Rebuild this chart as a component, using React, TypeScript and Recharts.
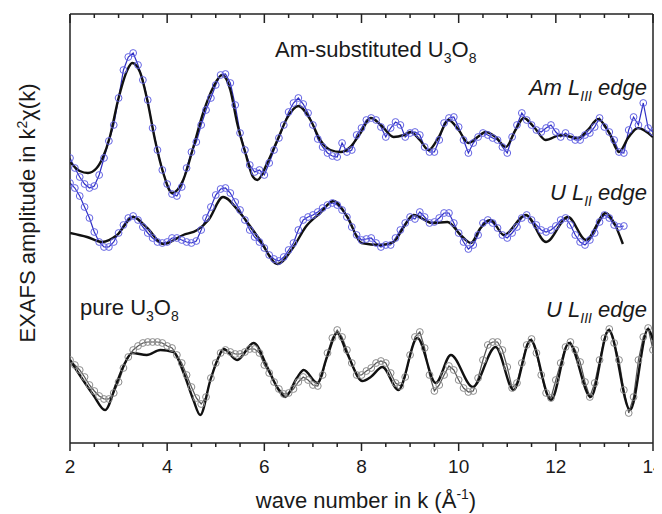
import React from 'react';
import { LineChart, Line, XAxis, YAxis, ReferenceLine, Customized } from 'recharts';

// sampling grid (wave number k, 1/Å) of the measured spectra
const kData = [
  2.0, 2.1, 2.2, 2.3, 2.4, 2.5, 2.6, 2.7, 2.8, 2.9,
  3.0, 3.1, 3.2, 3.3, 3.4, 3.5, 3.6, 3.7, 3.8, 3.9,
  4.0, 4.1, 4.2, 4.3, 4.4, 4.5, 4.6, 4.7, 4.8, 4.9,
  5.0, 5.1, 5.2, 5.3, 5.4, 5.5, 5.6, 5.7, 5.8, 5.9,
  6.0, 6.1, 6.2, 6.3, 6.4, 6.5, 6.6, 6.7, 6.8, 6.9,
  7.0, 7.1, 7.2, 7.3, 7.4, 7.5, 7.6, 7.7, 7.8, 7.9,
  8.0, 8.1, 8.2, 8.3, 8.4, 8.5, 8.6, 8.7, 8.8, 8.9,
  9.0, 9.1, 9.2, 9.3, 9.4, 9.5, 9.6, 9.7, 9.8, 9.9,
  10.0, 10.1, 10.2, 10.3, 10.4, 10.5, 10.6, 10.7, 10.8, 10.9,
  11.0, 11.1, 11.2, 11.3, 11.4, 11.5, 11.6, 11.7, 11.8, 11.9,
  12.0, 12.1, 12.2, 12.3, 12.4, 12.5, 12.6, 12.7, 12.8, 12.9,
  13.0, 13.1, 13.2, 13.3, 13.4, 13.5, 13.6, 13.7, 13.8, 13.9,
  14.0,
];

// Am L_III edge, measured (offset, arbitrary units)
const amMeasured = [
  285, 275, 266, 259, 255, 257, 268, 285, 302, 318,
  345, 373, 386, 390, 378, 363, 343, 315, 293, 273,
  259, 249, 247, 256, 275, 291, 301, 318, 333, 345,
  358, 368, 369, 360, 338, 310, 293, 278, 271, 273,
  268, 280, 293, 305, 318, 331, 340, 345, 339, 330,
  318, 304, 296, 290, 287, 286, 300, 291, 293, 308,
  315, 323, 325, 323, 316, 306, 315, 321, 318, 306,
  310, 311, 308, 296, 291, 291, 303, 320, 325, 326,
  316, 303, 290, 300, 306, 310, 308, 305, 303, 296,
  290, 306, 318, 330, 323, 318, 313, 311, 315, 318,
  311, 306, 310, 306, 303, 303, 308, 310, 316, 325,
  316, 311, 303, 291, 290, 313, 326, 318, 340, 315,
  311,
];

// Am L_III edge, fit
const amFitK = [
  2.0, 2.2, 2.37, 2.55, 2.68, 2.82, 2.99, 3.18, 3.28, 3.44,
  3.59, 3.75, 3.92, 4.1, 4.33, 4.54, 4.74, 4.95, 5.13, 5.3,
  5.44, 5.61, 5.77, 5.86, 6.06, 6.27, 6.47, 6.7, 6.95, 7.15,
  7.36, 7.57, 7.77, 7.98, 8.19, 8.4, 8.66, 8.87, 9.01, 9.2,
  9.38, 9.59, 9.79, 10.0, 10.2, 10.39, 10.56, 10.76, 10.97, 11.17,
  11.34, 11.55, 11.79, 12.1, 12.45, 12.66, 12.87, 13.1, 13.3, 13.5,
  13.69, 14.0,
];
const amFitV = [
  281, 272, 270, 275, 286, 306, 343, 373, 380, 371,
  343, 303, 270, 250, 263, 296, 330, 356, 368, 353,
  320, 290, 266, 263, 280, 303, 325, 337, 323, 303,
  293, 291, 296, 310, 325, 318, 306, 308, 311, 303,
  293, 306, 323, 313, 300, 306, 311, 306, 296, 313,
  325, 316, 303, 308, 305, 313, 324, 310, 291, 306,
  315, 306,
];

// U L_II edge, measured (k = 2.0 ... 13.4)
const uL2Measured = [
  260, 255, 247, 236, 225, 211, 201, 196, 196, 201,
  210, 218, 225, 227, 223, 216, 210, 205, 201, 200,
  201, 205, 205, 203, 201, 200, 202, 213, 225, 236,
  248, 254, 255, 250, 241, 233, 223, 213, 206, 201,
  195, 188, 184, 182, 186, 193, 200, 213, 223, 226,
  228, 231, 235, 238, 240, 238, 233, 226, 216, 208,
  203, 204, 205, 200, 196, 198, 198, 205, 213, 220,
  226, 224, 231, 226, 220, 221, 225, 230, 230, 220,
  210, 201, 194, 198, 208, 220, 223, 220, 215, 208,
  205, 210, 216, 225, 228, 223, 218, 213, 211, 213,
  217, 223, 225, 218, 208, 201, 198, 203, 210, 221,
  228, 225, 218, 216, 217,
];

// U L_II edge, fit
const uL2FitK = [
  2.0, 2.35, 2.66, 2.97, 3.3, 3.59, 3.92, 4.33, 4.62, 4.85,
  5.15, 5.5, 5.91, 6.27, 6.6, 6.85, 7.15, 7.42, 7.71, 8.0,
  8.39, 8.66, 8.87, 9.07, 9.46, 9.77, 10.04, 10.25, 10.45, 10.66,
  10.93, 11.38, 11.8, 12.25, 12.62, 13.03, 13.2, 13.38,
];
const uL2FitV = [
  210, 206, 201, 208, 226, 215, 199, 208, 213, 223,
  246, 230, 203, 179, 196, 216, 230, 242, 226, 200,
  198, 201, 216, 228, 220, 221, 208, 200, 215, 223,
  208, 228, 201, 226, 203, 230, 220, 199,
];

// U L_III edge (pure U3O8), measured
const uL3Measured = [
  83, 78, 73, 66, 58, 52, 47, 44, 44, 50,
  61, 75, 86, 93, 97, 100, 101, 101, 101, 100,
  97, 95, 88, 80, 68, 56, 45, 39, 46, 65,
  80, 90, 93, 91, 89, 89, 91, 94, 94, 90,
  78, 70, 61, 54, 49, 50, 54, 61, 66, 63,
  58, 57, 68, 90, 105, 113, 106, 93, 80, 68,
  68, 72, 75, 80, 82, 80, 70, 60, 57, 66,
  88, 106, 111, 95, 68, 52, 58, 68, 77, 73,
  63, 55, 51, 52, 65, 83, 98, 101, 101, 93,
  76, 55, 60, 80, 98, 104, 90, 68, 50, 45,
  63, 80, 96, 101, 93, 81, 61, 46, 60, 83,
  105, 114, 100, 83, 53, 30, 46, 83, 106, 115,
  93,
];

// U L_III edge, fit
const uL3FitK = [
  2.0, 2.48, 2.72, 2.96, 3.13, 3.28, 3.58, 3.86, 4.13, 4.34,
  4.54, 4.68, 4.89, 5.06, 5.16, 5.44, 5.78, 6.06, 6.26, 6.43,
  6.67, 6.81, 7.09, 7.29, 7.5, 7.7, 8.02, 8.19, 8.43, 8.76,
  9.15, 9.53, 9.84, 10.29, 10.76, 11.13, 11.48, 11.9, 12.27, 12.72,
  13.09, 13.53, 13.9, 14.0,
];
const uL3FitV = [
  83, 48, 33, 60, 80, 90, 88, 93, 91, 70,
  43, 28, 63, 86, 94, 83, 100, 76, 56, 46,
  65, 73, 60, 86, 110, 90, 62, 66, 76, 53,
  105, 60, 88, 56, 96, 53, 103, 43, 100, 46,
  113, 33, 114, 103,
];

const xTicks = [2, 2.5, 3, 3.5, 4, 4.5, 5, 5.5, 6, 6.5, 7, 7.5, 8, 8.5, 9, 9.5, 10, 10.5, 11, 11.5, 12, 12.5, 13, 13.5, 14];
const X_DOMAIN: [number, number] = [2, 14];
const Y_DOMAIN: [number, number] = [0, 429];

// chart frame geometry
const CHART_W = 654;
const CHART_H = 506;
const MARGIN = { top: 6, right: 9, left: 2, bottom: 0 };
const Y_AXIS_W = 60;
const X_AXIS_H = 71;
const PLOT_LEFT = MARGIN.left + Y_AXIS_W;
const PLOT_RIGHT = CHART_W - MARGIN.right;
const PLOT_TOP = MARGIN.top;

const toPts = (ks: number[], vs: number[]) => vs.map((v, i) => ({ k: ks[i], v }));

const amData = toPts(kData, amMeasured);
const amFit = toPts(amFitK, amFitV);
const uL2Data = toPts(kData, uL2Measured);
const uL2Fit = toPts(uL2FitK, uL2FitV);
const uL3Data = toPts(kData, uL3Measured);
const uL3Fit = toPts(uL3FitK, uL3FitV);

const FONT = '"Liberation Sans", Arial, Helvetica, sans-serif';
const INK = '#1a1a1a';
const AXIS = '#222';

const BottomTick = (props: any) => {
  const { x, y, payload } = props;
  const v = payload.value;
  const major = v % 2 === 0;
  return (
    <g>
      <line x1={x} y1={y} x2={x} y2={y + (major ? 8 : 4)} stroke={AXIS} strokeWidth={1.5} />
      {major && (
        <text x={x} y={y + 30} textAnchor="middle" fontSize={19} fill={INK} fontFamily={FONT}>
          {v}
        </text>
      )}
    </g>
  );
};

// top frame edge with inward ticks (mirror of the bottom axis)
const TopFrame = () => {
  const pos = (v: number) =>
    PLOT_LEFT + ((v - X_DOMAIN[0]) / (X_DOMAIN[1] - X_DOMAIN[0])) * (PLOT_RIGHT - PLOT_LEFT);
  return (
    <g>
      <line x1={PLOT_LEFT} y1={PLOT_TOP} x2={PLOT_RIGHT} y2={PLOT_TOP} stroke={AXIS} strokeWidth={1.5} />
      {xTicks.map((v) => (
        <line key={v} x1={pos(v)} y1={PLOT_TOP} x2={pos(v)} y2={PLOT_TOP + (v % 2 === 0 ? 9 : 4)} stroke={AXIS} strokeWidth={1.5} />
      ))}
    </g>
  );
};

const Annotations = () => (
  <g fontFamily={FONT} fill={INK}>
    <TopFrame />
    <text x={267} y={49} fontSize={22}>
      Am-substituted U<tspan dy={6} fontSize={14}>3</tspan>
      <tspan dy={-6}>O</tspan>
      <tspan dy={6} fontSize={14}>8</tspan>
    </text>
    <text x={639} y={87} fontSize={22} fontStyle="italic" textAnchor="end">
      Am L<tspan dy={6} fontSize={14}>III</tspan>
      <tspan dy={-6}> edge</tspan>
    </text>
    <text x={639} y={192} fontSize={22} fontStyle="italic" textAnchor="end">
      U L<tspan dy={6} fontSize={14}>II</tspan>
      <tspan dy={-6}> edge</tspan>
    </text>
    <text x={72} y={307} fontSize={22}>
      pure U<tspan dy={6} fontSize={14}>3</tspan>
      <tspan dy={-6}>O</tspan>
      <tspan dy={6} fontSize={14}>8</tspan>
    </text>
    <text x={639} y={309} fontSize={22} fontStyle="italic" textAnchor="end">
      U L<tspan dy={6} fontSize={14}>III</tspan>
      <tspan dy={-6}> edge</tspan>
    </text>
    <text x={27} y={205} fontSize={22} textAnchor="middle" transform="rotate(-90 27 205)">
      EXAFS amplitude in k<tspan dy={-8} fontSize={14}>2</tspan>
      <tspan dy={8}>χ(k)</tspan>
    </text>
    <text x={358} y={500} fontSize={22} textAnchor="middle">
      wave number in k (Å<tspan dy={-9} fontSize={14}>-1</tspan>
      <tspan dy={9}>)</tspan>
    </text>
  </g>
);

const blueDot = { r: 3.4, stroke: '#6464e4', strokeWidth: 1, fill: 'none' };
const grayDot = { r: 3.4, stroke: '#8c8c8c', strokeWidth: 1, fill: 'none' };

export default function App() {
  return (
    <LineChart width={CHART_W} height={CHART_H} margin={MARGIN}>
      <XAxis
        dataKey="k"
        type="number"
        domain={X_DOMAIN}
        allowDataOverflow
        ticks={xTicks}
        interval={0}
        height={X_AXIS_H}
        tickSize={0}
        tickMargin={0}
        tickLine={false}
        tick={BottomTick}
        axisLine={{ stroke: AXIS, strokeWidth: 1.5 }}
      />
      <YAxis
        type="number"
        domain={Y_DOMAIN}
        allowDataOverflow
        width={Y_AXIS_W}
        tick={false}
        tickLine={false}
        axisLine={{ stroke: AXIS, strokeWidth: 1.5 }}
      />
      <ReferenceLine x={14} stroke={AXIS} strokeWidth={1.5} />

      <Line data={amData} dataKey="v" type="linear" stroke="#2f2fc4" strokeWidth={1.2} dot={blueDot} activeDot={false} isAnimationActive={false} />
      <Line data={uL2Data} dataKey="v" type="linear" stroke="#2f2fc4" strokeWidth={1.2} dot={blueDot} activeDot={false} isAnimationActive={false} />
      <Line data={uL3Data} dataKey="v" type="linear" stroke="#555" strokeWidth={1.2} dot={grayDot} activeDot={false} isAnimationActive={false} />

      <Line data={amFit} dataKey="v" type="monotone" stroke="#111" strokeWidth={2.4} dot={false} activeDot={false} isAnimationActive={false} />
      <Line data={uL2Fit} dataKey="v" type="monotone" stroke="#111" strokeWidth={2.4} dot={false} activeDot={false} isAnimationActive={false} />
      <Line data={uL3Fit} dataKey="v" type="monotone" stroke="#111" strokeWidth={2.4} dot={false} activeDot={false} isAnimationActive={false} />

      <Customized component={Annotations} />
    </LineChart>
  );
}
